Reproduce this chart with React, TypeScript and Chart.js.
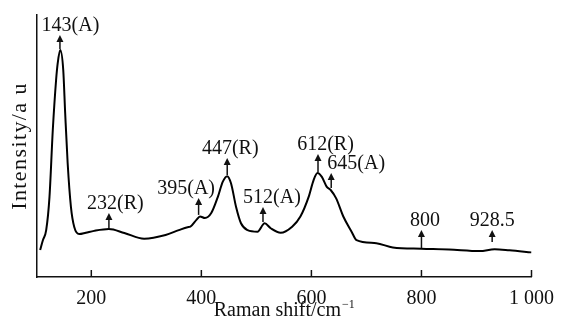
import React, { useEffect, useRef } from "react";
import { Chart, registerables } from "chart.js";

Chart.register(...registerables);

// Raman spectrum (x: Raman shift / cm^-1, y: intensity in arbitrary units)
const ramanShift = [
  107, 112, 118, 124, 130, 136, 139, 143.5, 149, 152.5, 157, 163, 169, 178, 190, 205,
  232, 260, 296, 335, 359, 375, 380, 391, 397.5, 406.5, 418, 430, 439, 447, 454, 463,
  472, 484, 502, 515, 526, 544, 565, 580, 595, 604, 611, 619, 628, 635, 645, 658, 673,
  682, 718, 748, 800, 850, 906, 933, 960, 1000,
];
const intensity = [
  10.3, 14, 17.9, 30.6, 56.1, 75.2, 81.7, 86.6, 79, 62.6, 43.5, 26.7, 19.1, 16.4, 16.9, 17.6,
  18.3, 16.8, 14.6, 16, 17.9, 19, 19.2, 21.8, 23.1, 22.5, 24.4, 30.6, 36.4, 38.5, 35.7, 26.8,
  20.5, 17.9, 17.3, 20.5, 18.6, 16.9, 19.2, 23.1, 30.6, 37, 39.7, 38.2, 34.4, 33.2, 30, 23.1, 17.3,
  14.1, 12.9, 11.3, 10.8, 10.5, 9.9, 10.6, 10.2, 9.4,
];

// Axis ticks
const xTickValues = [200, 400, 600, 800, 1000];
const xTickLabels = ["200", "400", "600", "800", "1 000"];

// Peak annotations
const peakLabels = ["143(A)", "232(R)", "395(A)", "447(R)", "512(A)", "612(R)", "645(A)", "800", "928.5"];
const peakArrowX = [143, 232, 395, 447, 512, 612, 636, 800, 928.5];
const peakArrowFrom = [87, 18.7, 23.7, 38.9, 21, 40, 34, 11, 13.4];
const peakArrowTo = [92.4, 24.4, 30.2, 45.4, 26.7, 46.9, 39.7, 17.9, 17.9];

const xTitle = "Raman shift/cm";
const xTitleSup = "\u22121";
const yTitle = "Intensity/a u";

const FONT = "'Liberation Serif', 'Times New Roman', serif";
const INK = "#111";

const labelDx = [10.5, 6.5, -12.5, 3, 9, 7.5, 25, 3.5, 0];

const decorPlugin = {
  id: "decor",
  afterDraw(chart: any) {
    const { ctx, chartArea, scales } = chart;
    const xs = scales.x;
    const ys = scales.y;
    ctx.save();
    // inward tick marks
    ctx.strokeStyle = INK;
    ctx.lineWidth = 1.5;
    xTickValues.forEach((v) => {
      const px = xs.getPixelForValue(v);
      ctx.beginPath();
      ctx.moveTo(px, chartArea.bottom);
      ctx.lineTo(px, chartArea.bottom - 7);
      ctx.stroke();
    });
    // arrows + labels
    ctx.fillStyle = INK;
    ctx.font = `20px ${FONT}`;
    ctx.textAlign = "center";
    ctx.textBaseline = "alphabetic";
    peakLabels.forEach((lab, i) => {
      const px = xs.getPixelForValue(peakArrowX[i]);
      const y0 = ys.getPixelForValue(peakArrowFrom[i]);
      const y1 = ys.getPixelForValue(peakArrowTo[i]);
      ctx.beginPath();
      ctx.moveTo(px, y0);
      ctx.lineTo(px, y1 + 5);
      ctx.stroke();
      ctx.beginPath();
      ctx.moveTo(px, y1);
      ctx.lineTo(px - 3.5, y1 + 7);
      ctx.lineTo(px + 3.5, y1 + 7);
      ctx.closePath();
      ctx.fill();
      ctx.fillText(lab, px + labelDx[i], y1 - 4);
    });
    // x title with superscript
    const cx = (chartArea.left + chartArea.right) / 2;
    ctx.font = `20px ${FONT}`;
    const w1 = ctx.measureText(xTitle).width;
    ctx.font = `12px ${FONT}`;
    const w2 = ctx.measureText(xTitleSup).width;
    const start = cx - (w1 + w2 + 1) / 2;
    ctx.textAlign = "left";
    ctx.font = `20px ${FONT}`;
    ctx.fillText(xTitle, start, chartArea.bottom + 39);
    ctx.font = `12px ${FONT}`;
    ctx.fillText(xTitleSup, start + w1 + 1, chartArea.bottom + 31);
    // y title
    ctx.translate(25.5, (chartArea.top + chartArea.bottom) / 2);
    ctx.rotate(-Math.PI / 2);
    ctx.font = `22px ${FONT}`;
    try {
      (ctx as any).letterSpacing = "1.4px";
    } catch (e) {}
    ctx.textAlign = "center";
    ctx.fillText(yTitle, 0, 0);
    ctx.restore();
  },
};

export default function App() {
  const ref = useRef<HTMLCanvasElement | null>(null);
  useEffect(() => {
    if (!ref.current) return;
    const chart = new Chart(ref.current, {
      type: "line",
      data: {
        datasets: [
          {
            data: ramanShift.map((x, i) => ({ x, y: intensity[i] })),
            borderColor: "#000",
            borderWidth: 2,
            pointRadius: 0,
            fill: false,
            cubicInterpolationMode: "monotone",
          },
        ],
      },
      options: {
        responsive: true,
        maintainAspectRatio: false,
        animation: false,
        events: [],
        layout: { padding: { top: 15, right: 27, left: 0, bottom: 0 } },
        plugins: { legend: { display: false }, tooltip: { enabled: false } },
        scales: {
          x: {
            type: "linear",
            min: 101.3,
            max: 1000,
            afterFit: (s: any) => {
              s.height = 44;
            },
            afterBuildTicks: (s: any) => {
              s.ticks = xTickValues.map((v) => ({ value: v }));
            },
            grid: { display: false, drawTicks: false },
            border: { display: true, color: INK, width: 1.5 },
            ticks: {
              color: INK,
              padding: 10,
              maxRotation: 0,
              autoSkip: false,
              font: { family: FONT, size: 20 },
              callback: (v: any) => {
                const i = xTickValues.indexOf(Number(v));
                return i >= 0 ? xTickLabels[i] : "";
              },
            },
          },
          y: {
            type: "linear",
            min: 0,
            max: 100,
            afterFit: (s: any) => {
              s.width = 37;
            },
            grid: { display: false, drawTicks: false },
            border: { display: true, color: INK, width: 1.5 },
            ticks: { display: false },
          },
        },
      },
      plugins: [decorPlugin],
    } as any);
    return () => chart.destroy();
  }, []);
  return (
    <div style={{ position: "fixed", left: 0, top: 0, width: 564, height: 321, background: "#fff" }}>
      <canvas ref={ref} />
    </div>
  );
}
